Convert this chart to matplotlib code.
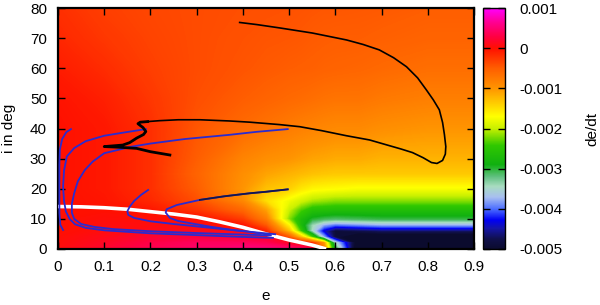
import numpy as np
import matplotlib
matplotlib.use('Agg')
import matplotlib.pyplot as plt
from matplotlib.colors import LinearSegmentedColormap, Normalize
from matplotlib.cm import ScalarMappable

plt.rcParams['font.family'] = ['Liberation Sans', 'DejaVu Sans']
plt.rcParams['axes.unicode_minus'] = False

# ---------------- data ----------------
e_grid = [0.0, 0.1, 0.2, 0.3, 0.4, 0.45, 0.5, 0.525, 0.55, 0.575, 0.6, 0.65, 0.7, 0.8, 0.9]
i_grid = [0, 2, 4, 6, 8, 10, 13, 16, 20, 25, 30, 40, 50, 60, 70, 80]
# de/dt in units of 1e-3, one row per inclination
dedt_grid = [
    [0.05, 0.20, 0.35, 0.45, 0.55, 0.55, 0.50, 0.45, 0.30, -0.8, -3.0, -5.5, -5.5, -5.5, -5.5],
    [0.03, 0.15, 0.30, 0.40, 0.40, 0.35, 0.15, 0.0, -0.2, -1.0, -3.5, -5.3, -5.5, -5.5, -5.5],
    [0.02, 0.10, 0.20, 0.25, 0.20, 0.15, -0.5, -1.3, -2.4, -3.8, -4.9, -5.3, -5.3, -5.3, -5.3],
    [0.00, 0.05, 0.10, 0.10, 0.05, -0.15, -1.3, -2.4, -3.5, -4.4, -4.9, -4.8, -4.7, -4.7, -4.7],
    [0.00, 0.05, 0.05, 0.05, -0.05, -0.5, -1.7, -2.7, -3.4, -3.8, -4.0, -3.9, -3.8, -3.8, -3.8],
    [0.00, 0.03, 0.02, 0.02, -0.3, -0.8, -2.2, -2.7, -3.0, -3.1, -3.15, -3.1, -3.05, -3.05, -3.05],
    [0.00, 0.00, -0.05, -0.25, -0.6, -1.1, -2.0, -2.35, -2.6, -2.62, -2.65, -2.65, -2.65, -2.65, -2.65],
    [0.00, -0.03, -0.15, -0.4, -0.9, -1.5, -1.8, -1.95, -2.1, -2.15, -2.2, -2.2, -2.2, -2.2, -2.2],
    [0.00, -0.05, -0.2, -0.5, -1.0, -1.3, -1.4, -1.55, -1.65, -1.68, -1.7, -1.75, -1.75, -1.75, -1.75],
    [0.00, -0.05, -0.2, -0.55, -0.95, -1.1, -1.2, -1.25, -1.3, -1.33, -1.35, -1.35, -1.35, -1.35, -1.35],
    [0.00, -0.05, -0.2, -0.5, -0.85, -0.95, -1.0, -1.05, -1.1, -1.12, -1.15, -1.15, -1.2, -1.2, -1.2],
    [0.00, -0.05, -0.2, -0.45, -0.62, -0.7, -0.78, -0.82, -0.85, -0.88, -0.9, -0.9, -0.95, -1.0, -1.0],
    [-0.02, -0.1, -0.25, -0.4, -0.5, -0.55, -0.6, -0.62, -0.65, -0.68, -0.7, -0.7, -0.75, -0.8, -0.8],
    [-0.08, -0.18, -0.3, -0.38, -0.44, -0.47, -0.5, -0.51, -0.52, -0.54, -0.55, -0.57, -0.6, -0.65, -0.65],
    [-0.15, -0.25, -0.33, -0.38, -0.42, -0.44, -0.45, -0.46, -0.48, -0.49, -0.5, -0.5, -0.52, -0.55, -0.55],
    [-0.2, -0.3, -0.35, -0.38, -0.4, -0.41, -0.42, -0.43, -0.44, -0.45, -0.45, -0.46, -0.47, -0.5, -0.5],
]

# white curve
white_e = [0.0, 0.05, 0.1, 0.15, 0.2, 0.25, 0.3, 0.35, 0.4, 0.45, 0.5, 0.55, 0.58]
white_i = [14.1, 14.0, 13.7, 13.2, 12.4, 11.6, 10.6, 9.0, 7.2, 5.0, 3.0, 1.3, 0.0]

# black trajectory: large loop
black_loop_e = [0.393, 0.43, 0.479, 0.55, 0.624, 0.66, 0.695, 0.726, 0.754, 0.778, 0.797,
                0.812, 0.825, 0.832, 0.836, 0.839, 0.838, 0.832, 0.82, 0.808, 0.79,
                0.767, 0.742, 0.717, 0.674, 0.624, 0.57, 0.523, 0.479, 0.415,
                0.371, 0.307, 0.26, 0.22, 0.194]
black_loop_i = [75.2, 74.5, 73.4, 71.7, 69.4, 67.9, 66.1, 63.5, 60.5, 56.8, 52.8,
                49.5, 46.2, 42.0, 38.0, 34.0, 31.5, 29.4, 28.4, 28.7, 30.3,
                32.0, 33.2, 34.3, 36.2, 37.6, 39.3, 40.6, 41.3, 42.1,
                42.5, 42.9, 42.9, 42.6, 42.3]
# black trajectory: chaotic zig-zag part
black_zig_e = [0.194, 0.178, 0.173, 0.184, 0.19, 0.185, 0.17, 0.155, 0.14, 0.1,
               0.13, 0.17, 0.2, 0.242]
black_zig_i = [42.3, 42.1, 41.6, 40.3, 39.0, 38.0, 36.8, 35.3, 34.5, 34.0,
               33.8, 33.4, 32.3, 31.2]

# blue trajectories
blue_a_e = [0.028, 0.018, 0.009, 0.004, 0.003, 0.003, 0.003, 0.005, 0.011]
blue_a_i = [39.8, 38.8, 36.5, 33.0, 28.0, 20.0, 12.0, 8.0, 6.3]

blue_b_e = [0.19, 0.14, 0.1, 0.06, 0.035, 0.019, 0.013, 0.011, 0.013, 0.017, 0.025,
            0.037, 0.06, 0.1, 0.15, 0.2, 0.25, 0.3, 0.35, 0.4, 0.44, 0.465]
blue_b_i = [39.8, 38.6, 37.6, 35.8, 33.5, 30.7, 26.0, 20.7, 16.0, 12.5, 10.0,
            8.2, 7.0, 6.2, 5.7, 5.2, 4.9, 4.6, 4.3, 4.0, 3.8, 3.7]

blue_c_e = [0.497, 0.43, 0.371, 0.274, 0.2, 0.16, 0.1, 0.075, 0.058, 0.043, 0.035,
            0.03, 0.03, 0.035, 0.05, 0.08, 0.12, 0.2, 0.3, 0.4, 0.46]
blue_c_i = [39.8, 38.9, 37.9, 36.5, 35.0, 34.0, 31.8, 29.0, 26.2, 22.5, 18.5,
            15.0, 12.0, 10.0, 8.3, 7.3, 6.6, 5.9, 5.3, 4.8, 4.5]

blue_d_e = [0.195, 0.18, 0.165, 0.155, 0.15, 0.152, 0.165, 0.2, 0.25, 0.3, 0.35, 0.415, 0.46]
blue_d_i = [19.6, 18.0, 16.0, 14.0, 12.5, 11.3, 10.3, 9.2, 8.3, 7.5, 6.7, 5.7, 4.6]

blue_e_e = [0.497, 0.45, 0.415, 0.36, 0.307, 0.257, 0.235, 0.233, 0.242, 0.26, 0.285,
            0.33, 0.378, 0.443, 0.47]
blue_e_i = [19.8, 19.0, 18.5, 17.5, 16.3, 14.6, 13.2, 12.1, 10.3, 9.3, 8.6,
            7.4, 6.3, 5.3, 4.9]

xticks = [0.0, 0.1, 0.2, 0.3, 0.4, 0.5, 0.6, 0.7, 0.8, 0.9]
xtick_labels = ['0', '0.1', '0.2', '0.3', '0.4', '0.5', '0.6', '0.7', '0.8', '0.9']
yticks = [0, 10, 20, 30, 40, 50, 60, 70, 80]
cb_ticks = [-0.005, -0.004, -0.003, -0.002, -0.001, 0.0, 0.001]
cb_tick_labels = ['-0.005', '-0.004', '-0.003', '-0.002', '-0.001', '0', '0.001']

# ---------------- colormap ----------------
cmap_nodes = [
    (0.000, '#0b0b2e'), (0.040, '#10104a'), (0.085, '#1515a8'), (0.120, '#0000f5'),
    (0.165, '#4a6cff'), (0.215, '#a8bff0'), (0.260, '#a8dcc0'), (0.300, '#60c080'),
    (0.350, '#10b010'), (0.430, '#30c800'), (0.500, '#c8f000'), (0.550, '#ffff00'),
    (0.610, '#ffc800'), (0.667, '#ff9400'), (0.750, '#ff5e00'), (0.833, '#ff1000'),
    (0.880, '#ff0040'), (0.940, '#ff0090'), (1.000, '#ff00ff'),
]
cmap = LinearSegmentedColormap.from_list('gp', cmap_nodes, N=1024)
cmap.set_under('#0b0b2e')
cmap.set_over('#ff00ff')
norm = Normalize(vmin=-0.005, vmax=0.001)

# ---------------- figure ----------------
W, H = 600, 305
fig = plt.figure(figsize=(W / 100, H / 100), dpi=100)
ax_l, ax_r, ax_t, ax_b = 58, 474, 8, 249
ax = fig.add_axes([ax_l / W, 1 - ax_b / H, (ax_r - ax_l) / W, (ax_b - ax_t) / H])

Z = np.array(dedt_grid) * 1e-3
levels = np.linspace(-0.0056, 0.0011, 900)
ax.contourf(e_grid, i_grid, Z, levels=levels, cmap=cmap, norm=norm,
            extend='both', antialiased=False)

ax.plot(white_e, white_i, color='white', lw=2.6, solid_capstyle='butt', zorder=3)

blue = '#2b2bd0'
for xe, yi in [(blue_a_e, blue_a_i), (blue_b_e, blue_b_i), (blue_c_e, blue_c_i),
               (blue_d_e, blue_d_i), (blue_e_e, blue_e_i)]:
    ax.plot(xe, yi, color=blue, lw=1.3, zorder=4)
ax.plot(blue_e_e[:5], blue_e_i[:5], color='#16164a', lw=1.3, zorder=4)

ax.plot(black_loop_e, black_loop_i, color='black', lw=1.2, zorder=5)
ax.plot(black_zig_e, black_zig_i, color='black', lw=2.0, zorder=5)

ax.set_xlim(0, 0.9)
ax.set_ylim(0, 80)
ax.set_xticks(xticks)
ax.set_xticklabels(xtick_labels)
ax.set_yticks(yticks)
ax.set_yticklabels([str(v) for v in yticks])
ax.tick_params(direction='in', top=True, right=True, length=5, width=1,
               labelsize=11, pad=8, colors='black')
for s in ax.spines.values():
    s.set_linewidth(1.6)

cax = fig.add_axes([483 / W, 1 - ax_b / H, 22 / W, (ax_b - ax_t) / H])
cb = fig.colorbar(ScalarMappable(norm=norm, cmap=cmap), cax=cax)
cb.set_ticks(cb_ticks)
cb.set_ticklabels(cb_tick_labels)
cax.tick_params(direction='in', left=True, right=True, length=5, width=1,
                labelsize=11, pad=10)
cb.outline.set_linewidth(1.0)

fig.text(266 / W, 1 - 296 / H, 'e', ha='center', va='center', fontsize=11)
fig.text(9 / W, 1 - 128.5 / H, 'i in deg', ha='center', va='center',
         rotation=90, fontsize=11)
fig.text(592 / W, 1 - 128.5 / H, 'de/dt', ha='center', va='center',
         rotation=90, fontsize=11)

fig.savefig('out.png', dpi=100)
